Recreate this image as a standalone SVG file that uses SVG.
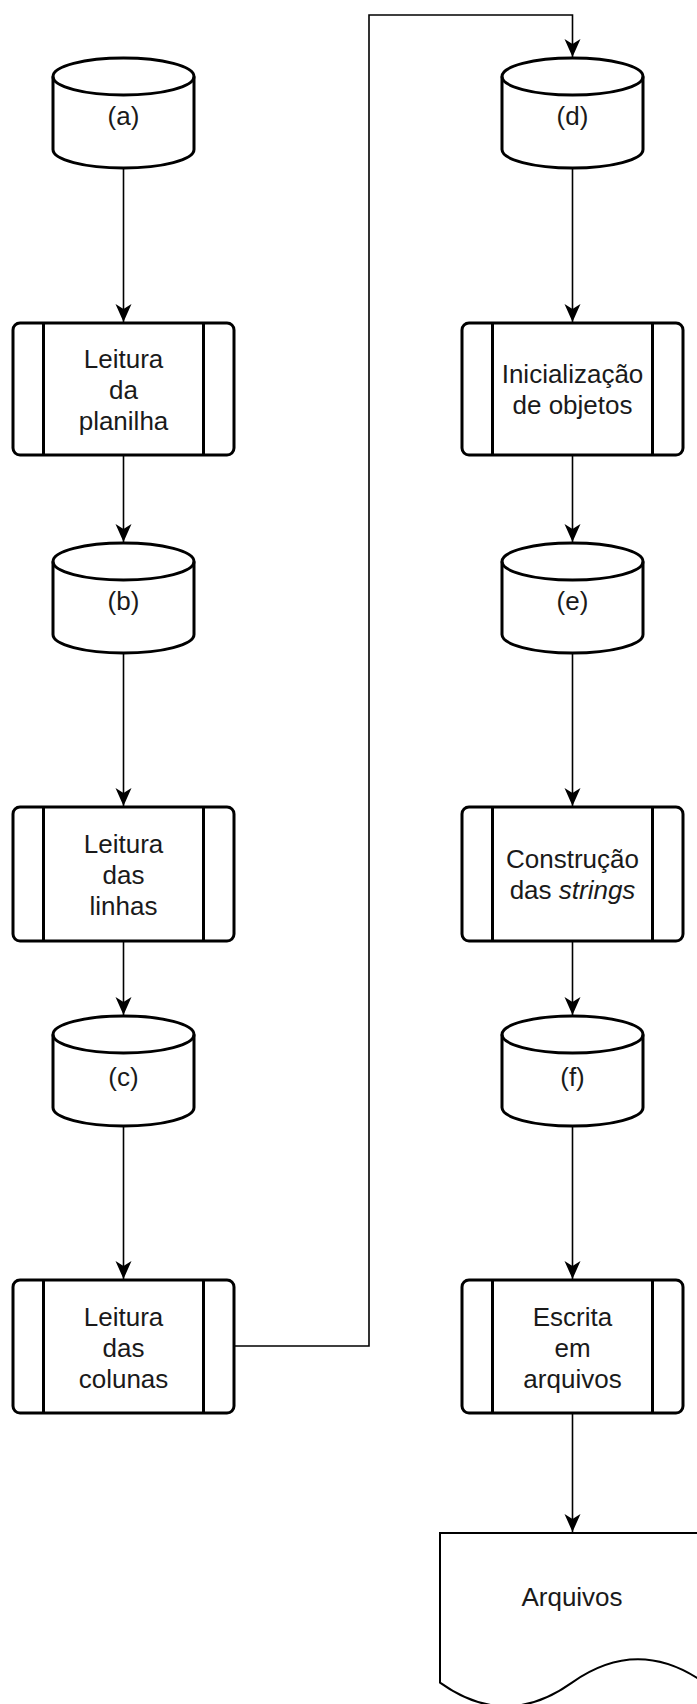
<svg xmlns="http://www.w3.org/2000/svg" width="697" height="1704" viewBox="0 0 697 1704">
  <style>
    .shape { fill: #ffffff; stroke: #000000; stroke-width: 3; }
    .bar { fill: none; stroke: #000000; stroke-width: 3; }
    .doc { fill: #ffffff; stroke: #000000; stroke-width: 2; }
    .edge { fill: none; stroke: #000000; stroke-width: 1.6; marker-end: url(#arrow); }
    .label { font-family: "Liberation Sans", Arial, sans-serif; font-size: 26px; fill: #1a1a1a; text-anchor: middle; }
  </style>
  <defs>
    <marker id="arrow" markerUnits="userSpaceOnUse" viewBox="-19 -10 20 20" markerWidth="20" markerHeight="20" refX="0" refY="0" orient="auto">
      <path d="M0,0 L-18,-8 L-13,0 L-18,8 Z" fill="#000000"/>
    </marker>
  </defs>
  <rect width="697" height="1704" fill="#ffffff"/>

  <!-- connectors -->
  <g id="connectors">
    <path class="edge" d="M123.5,168 V322"/>
    <path class="edge" d="M123.5,455 V542"/>
    <path class="edge" d="M123.5,653 V806"/>
    <path class="edge" d="M123.5,941 V1015"/>
    <path class="edge" d="M123.5,1126 V1279"/>
    <path class="edge" d="M234,1346 H369 V15 H572.5 V57"/>
    <path class="edge" d="M572.5,168 V322"/>
    <path class="edge" d="M572.5,455 V542"/>
    <path class="edge" d="M572.5,653 V806"/>
    <path class="edge" d="M572.5,941 V1015"/>
    <path class="edge" d="M572.5,1126 V1279"/>
    <path class="edge" d="M572.5,1413 V1532"/>
  </g>

  <!-- column 1 -->
  <g id="store-a">
    <path class="shape" d="M53,76.5 A70.5,18.5 0 0 1 194,76.5 V149.5 A70.5,18.5 0 0 1 53,149.5 Z"/>
    <path class="bar" d="M53,76.5 A70.5,18.5 0 0 0 194,76.5"/>
    <text class="label" x="123.5" y="125">(a)</text>
  </g>
  <g id="proc-planilha">
    <rect class="shape" x="13" y="323" width="221" height="132" rx="7"/>
    <path class="bar" d="M43.5,323 V455 M203.5,323 V455"/>
    <text class="label" x="123.5" y="368">Leitura</text>
    <text class="label" x="123.5" y="399">da</text>
    <text class="label" x="123.5" y="430">planilha</text>
  </g>
  <g id="store-b">
    <path class="shape" d="M53,561.5 A70.5,18.5 0 0 1 194,561.5 V634.5 A70.5,18.5 0 0 1 53,634.5 Z"/>
    <path class="bar" d="M53,561.5 A70.5,18.5 0 0 0 194,561.5"/>
    <text class="label" x="123.5" y="610">(b)</text>
  </g>
  <g id="proc-linhas">
    <rect class="shape" x="13" y="807" width="221" height="134" rx="7"/>
    <path class="bar" d="M43.5,807 V941 M203.5,807 V941"/>
    <text class="label" x="123.5" y="853">Leitura</text>
    <text class="label" x="123.5" y="884">das</text>
    <text class="label" x="123.5" y="915">linhas</text>
  </g>
  <g id="store-c">
    <path class="shape" d="M53,1034.5 A70.5,18.5 0 0 1 194,1034.5 V1107.5 A70.5,18.5 0 0 1 53,1107.5 Z"/>
    <path class="bar" d="M53,1034.5 A70.5,18.5 0 0 0 194,1034.5"/>
    <text class="label" x="123.5" y="1086">(c)</text>
  </g>
  <g id="proc-colunas">
    <rect class="shape" x="13" y="1280" width="221" height="133" rx="7"/>
    <path class="bar" d="M43.5,1280 V1413 M203.5,1280 V1413"/>
    <text class="label" x="123.5" y="1326">Leitura</text>
    <text class="label" x="123.5" y="1357">das</text>
    <text class="label" x="123.5" y="1388">colunas</text>
  </g>

  <!-- column 2 -->
  <g id="store-d">
    <path class="shape" d="M502,76.5 A70.5,18.5 0 0 1 643,76.5 V149.5 A70.5,18.5 0 0 1 502,149.5 Z"/>
    <path class="bar" d="M502,76.5 A70.5,18.5 0 0 0 643,76.5"/>
    <text class="label" x="572.5" y="125">(d)</text>
  </g>
  <g id="proc-objetos">
    <rect class="shape" x="462" y="323" width="221" height="132" rx="7"/>
    <path class="bar" d="M492.5,323 V455 M652.5,323 V455"/>
    <text class="label" x="572.5" y="383">Inicialização</text>
    <text class="label" x="572.5" y="414">de objetos</text>
  </g>
  <g id="store-e">
    <path class="shape" d="M502,561.5 A70.5,18.5 0 0 1 643,561.5 V634.5 A70.5,18.5 0 0 1 502,634.5 Z"/>
    <path class="bar" d="M502,561.5 A70.5,18.5 0 0 0 643,561.5"/>
    <text class="label" x="572.5" y="610">(e)</text>
  </g>
  <g id="proc-strings">
    <rect class="shape" x="462" y="807" width="221" height="134" rx="7"/>
    <path class="bar" d="M492.5,807 V941 M652.5,807 V941"/>
    <text class="label" x="572.5" y="868">Construção</text>
    <text class="label" x="572.5" y="899">das <tspan font-style="italic">strings</tspan></text>
  </g>
  <g id="store-f">
    <path class="shape" d="M502,1034.5 A70.5,18.5 0 0 1 643,1034.5 V1107.5 A70.5,18.5 0 0 1 502,1107.5 Z"/>
    <path class="bar" d="M502,1034.5 A70.5,18.5 0 0 0 643,1034.5"/>
    <text class="label" x="572.5" y="1086">(f)</text>
  </g>
  <g id="proc-escrita">
    <rect class="shape" x="462" y="1280" width="221" height="133" rx="7"/>
    <path class="bar" d="M492.5,1280 V1413 M652.5,1280 V1413"/>
    <text class="label" x="572.5" y="1326">Escrita</text>
    <text class="label" x="572.5" y="1357">em</text>
    <text class="label" x="572.5" y="1388">arquivos</text>
  </g>
  <g id="doc-arquivos">
    <path class="doc" d="M440,1533 H704 V1682.6 Q638,1636 572,1682.6 Q506,1730 440,1682.6 Z"/>
    <text class="label" x="572" y="1606">Arquivos</text>
  </g>
</svg>
